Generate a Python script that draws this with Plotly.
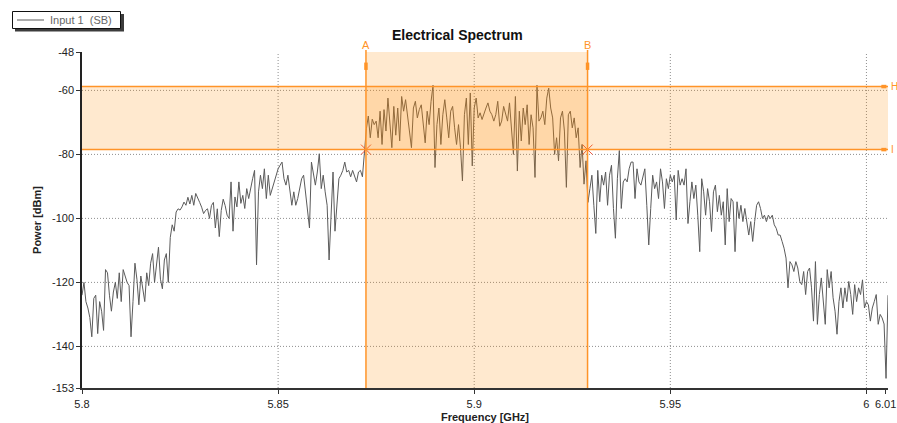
import numpy as np
import plotly.graph_objects as go

# Sample grid of the analyser sweep (GHz)
FREQ_START = 5.8
FREQ_STEP = 0.0005

# Measured power per sample (dBm), Input 1 (SB)
power_dbm = [
    -124, -120, -126, -128, -131, -137, -125, -124, -136, -126,
    -129, -135, -116, -117, -124, -129, -123, -120, -125, -117,
    -126, -116, -118, -120, -121, -137, -126, -114, -119, -127,
    -118, -122, -126, -117, -121, -114, -111, -120, -114, -109,
    -119, -122, -113, -111, -120, -106, -102, -104, -98, -97,
    -97.4, -96.4, -94.9, -95.9, -93.4, -95.5, -92.8, -95.9, -92.2, -93.4,
    -95, -96.5, -98.5, -97.5, -97, -100, -96, -95, -103, -97,
    -105.7, -97.5, -94, -96, -99, -100, -88.6, -104, -93.3, -96.4,
    -88.6, -95.3, -92.8, -96.9, -90.7, -93.8, -90.2, -87.6, -85, -114.5,
    -91.7, -86.5, -90.7, -84.5, -93.8, -86.5, -92.8, -90.7, -88.6, -86.5,
    -84.5, -83.4, -82.4, -87.6, -89.6, -86.5, -90.7, -95.9, -91.7, -95.9,
    -93.8, -90.7, -87.6, -86.5, -91.7, -95.9, -103, -82.4, -86.5, -89.6,
    -85.5, -79.8, -90.7, -86.5, -91.7, -95.9, -113, -101, -85.5, -104,
    -95.9, -87.6, -86.5, -85, -82.4, -85.5, -85, -87, -85, -86.5,
    -88.6, -85.5, -85, -87, -80, -72, -68, -74.8, -69, -70.7,
    -69.6, -74.8, -66.5, -76.9, -66, -72.7, -62.4, -69.6, -77.9, -65,
    -74, -65.5, -75.8, -61.9, -66.5, -62.9, -68.6, -72.7, -77.9, -65.5,
    -63.4, -68.6, -66, -64.5, -70.7, -76.4, -66.5, -70.7, -63.4, -58.4,
    -84.1, -70.7, -65.5, -76.9, -67.6, -62.9, -68.6, -74.8, -66.5, -65,
    -71.7, -76.9, -70.7, -77.9, -88.3, -67.6, -62.4, -76.9, -60.8, -83.6,
    -65.5, -62.4, -68.6, -67, -69.1, -67.6, -65.5, -63.9, -66.5, -67.6,
    -69.6, -67.6, -63.4, -71.2, -69.6, -65, -67.6, -69.6, -63.9, -71.7,
    -80, -61.9, -85.2, -66.5, -75.8, -65.5, -70.7, -64.5, -76.9, -67.6,
    -71.7, -87.2, -58.4, -69.6, -68.6, -66.5, -70.7, -62.4, -59.3, -65.5,
    -68.6, -80, -74.8, -82, -68.6, -66.5, -72.7, -90.3, -67.6, -66.5,
    -71.7, -68.6, -74.8, -71.7, -84.1, -76.9, -89.3, -82, -95, -90.7,
    -86.5, -95.9, -104.7, -85, -94.8, -86.5, -89.6, -85.5, -95.9, -86.5,
    -83.4, -96.9, -106.2, -87.6, -78.8, -96.9, -88.6, -87.6, -88.6, -84.5,
    -82.4, -82.4, -93.8, -84.5, -88.6, -89.6, -86.5, -84.5, -95.9, -108.3,
    -96.9, -86.5, -90.7, -88.6, -93.8, -84.5, -88.6, -96.9, -87.6, -90.7,
    -86.5, -88.6, -86.5, -100.5, -85, -89.6, -87.6, -89.6, -84.5, -101.6,
    -94.8, -88.6, -93.8, -89.6, -99, -110.4, -87.6, -91.7, -99, -90.7,
    -94.8, -104.1, -91.7, -89.6, -97.9, -92.8, -99, -94.8, -108.3, -90.7,
    -101, -93.8, -94.8, -110.4, -94.8, -100, -95.9, -101, -96.9, -102,
    -105.2, -101, -107.2, -101, -95.9, -94.8, -96.9, -100, -99, -101,
    -99, -100, -99, -102, -103.1, -105.2, -105.2, -107.2, -109.3, -112.4,
    -121.7, -113.5, -114.5, -116.6, -113.5, -115.5, -119.7, -120.7, -116.6, -123.8,
    -116.6, -115.5, -121.7, -132.1, -113.5, -133.1, -123.8, -118.6, -124.8, -133.1,
    -116, -121.7, -116.6, -124.8, -129, -136.2, -126, -121.7, -128, -121.7,
    -126, -119.7, -123.8, -130, -120.7, -126, -121.7, -123.8, -119.2, -128,
    -126, -127, -132.1, -128, -126, -123.8, -133.1, -130, -131.1, -133,
    -150, -124,
]

# Axis limits and labels
X_RANGE = [5.8, 6.0055]
Y_RANGE = [-153, -48]
x_tick_vals = [5.8, 5.85, 5.9, 5.95, 6.0, 6.0049]
x_tick_text = ["5.8", "5.85", "5.9", "5.95", "6", "6.01"]
y_tick_vals = [-153, -140, -120, -100, -80, -60, -48]
y_tick_text = ["-153", "-140", "-120", "-100", "-80", "-60", "-48"]
x_grid = [5.85, 5.9, 5.95, 6.0]
y_grid = [-140, -120, -100, -80, -60]

# Marker positions
MARK_A = 5.8724
MARK_B = 5.9289
MARK_H = -58.8
MARK_I = -78.5

SERIES_NAME = "Input 1\u00a0 (SB)"

freq = FREQ_START + FREQ_STEP * np.arange(len(power_dbm))

FONT = "Liberation Sans, Arial, sans-serif"
ORANGE = "rgb(255,148,40)"
BAND = "rgba(255,140,0,0.19)"
GRID = "#8e8e8e"
TRACE = "#5b5b5b"

# Plot-area geometry in pixels, used to place the legend box and titles in paper units
L, R, T, B = 82, 888, 52, 388
W, H = 897, 423


def px_x(p):
    return (p - L) / (R - L)


def px_y(p):
    return (B - p) / (B - T)


fig = go.Figure()

fig.add_trace(go.Scatter(
    x=freq, y=power_dbm, mode="lines", name=SERIES_NAME,
    line=dict(color=TRACE, width=1), hoverinfo="skip", showlegend=False,
))

# Cross markers where the A/B markers meet level I
fig.add_trace(go.Scatter(
    x=[MARK_A, MARK_B], y=[MARK_I, MARK_I], mode="markers",
    marker=dict(symbol="x-thin-open", size=10, line=dict(color=ORANGE, width=1)),
    showlegend=False, hoverinfo="skip",
))

shapes = []
for gx in x_grid:
    shapes.append(dict(type="line", xref="x", yref="paper", x0=gx, x1=gx, y0=0, y1=1,
                       line=dict(color=GRID, width=1, dash="1px,2px"), layer="below"))
for gy in y_grid:
    shapes.append(dict(type="line", xref="paper", yref="y", x0=0, x1=1, y0=gy, y1=gy,
                       line=dict(color=GRID, width=1, dash="1px,2px"), layer="below"))

# Shaded marker bands
shapes.append(dict(type="rect", xref="x", yref="paper", x0=MARK_A, x1=MARK_B, y0=0, y1=1,
                   fillcolor=BAND, line=dict(width=0), layer="above"))
shapes.append(dict(type="rect", xref="paper", yref="y", x0=0, x1=1, y0=MARK_I, y1=MARK_H,
                   fillcolor=BAND, line=dict(width=0), layer="above"))

# Marker lines with their handles
for mx in (MARK_A, MARK_B):
    shapes.append(dict(type="line", xref="x", yref="paper", x0=mx, x1=mx, y0=0, y1=1.006,
                       line=dict(color=ORANGE, width=1.5), layer="above"))
    shapes.append(dict(type="line", xref="x", yref="y", x0=mx, x1=mx, y0=-51.3, y1=-53.6,
                       line=dict(color=ORANGE, width=3.5), layer="above"))
for my in (MARK_H, MARK_I):
    shapes.append(dict(type="line", xref="paper", yref="y", x0=0, x1=1.0, y0=my, y1=my,
                       line=dict(color=ORANGE, width=1.5), layer="above"))
    shapes.append(dict(type="line", xref="x", yref="y", x0=6.0038, x1=6.0051, y0=my, y1=my,
                       line=dict(color=ORANGE, width=3.5), layer="above"))

# Legend box: shadow, frame and line sample
shapes.append(dict(type="rect", xref="paper", yref="paper",
                   x0=px_x(15), x1=px_x(124), y0=px_y(31.5), y1=px_y(14),
                   fillcolor="#3c3c3c", line=dict(width=0), layer="above"))
shapes.append(dict(type="rect", xref="paper", yref="paper",
                   x0=px_x(12.5), x1=px_x(120.5), y0=px_y(28.5), y1=px_y(11.5),
                   fillcolor="white", line=dict(color="#111", width=1), layer="above"))
shapes.append(dict(type="line", xref="paper", yref="paper",
                   x0=px_x(17), x1=px_x(44), y0=px_y(20), y1=px_y(20),
                   line=dict(color=TRACE, width=1), layer="above"))

annotations = [
    dict(text=SERIES_NAME, xref="paper", yref="paper", x=px_x(48), y=px_y(20),
         showarrow=False, xanchor="left", yanchor="middle",
         font=dict(family=FONT, size=11, color="#666")),
    dict(text="<b>Electrical Spectrum</b>", xref="paper", yref="paper", x=px_x(457), y=px_y(35),
         showarrow=False, xanchor="center", yanchor="middle",
         font=dict(family=FONT, size=14, color="#111")),
    dict(text="<b>Frequency [GHz]</b>", xref="paper", yref="paper", x=px_x(485), y=px_y(417),
         showarrow=False, xanchor="center", yanchor="middle",
         font=dict(family=FONT, size=11, color="#222")),
    dict(text="A", xref="x", yref="paper", x=MARK_A, y=px_y(45), showarrow=False,
         xanchor="center", yanchor="middle", font=dict(family=FONT, size=11, color=ORANGE)),
    dict(text="B", xref="x", yref="paper", x=MARK_B, y=px_y(45), showarrow=False,
         xanchor="center", yanchor="middle", font=dict(family=FONT, size=11, color=ORANGE)),
    dict(text="H", xref="paper", yref="y", x=px_x(888.5), y=MARK_H, showarrow=False,
         xanchor="left", yanchor="middle", font=dict(family=FONT, size=10, color=ORANGE)),
    dict(text="I", xref="paper", yref="y", x=px_x(889), y=MARK_I, showarrow=False,
         xanchor="left", yanchor="middle", font=dict(family=FONT, size=10, color=ORANGE)),
]

fig.update_layout(
    width=W, height=H,
    margin=dict(l=L, r=W - R, t=T, b=H - B, autoexpand=False),
    paper_bgcolor="white", plot_bgcolor="white",
    font=dict(family=FONT, size=11, color="#222"),
    shapes=shapes, annotations=annotations,
    showlegend=False,
    xaxis=dict(range=X_RANGE, tickmode="array", tickvals=x_tick_vals, ticktext=x_tick_text,
               tickangle=0, showgrid=False, zeroline=False, showline=True, automargin=False,
               linecolor="#333", linewidth=1.5, ticks="outside", ticklen=4, tickcolor="#333",
               ticklabelstandoff=1,
               tickfont=dict(family=FONT, size=11, color="#222")),
    yaxis=dict(range=Y_RANGE, tickmode="array", tickvals=y_tick_vals, ticktext=y_tick_text,
               showgrid=False, zeroline=False, showline=True, automargin=False,
               linecolor="#222", linewidth=1.5, ticks="outside", ticklen=4, tickcolor="#333",
               tickfont=dict(family=FONT, size=11, color="#222"),
               title=dict(text="<b>Power [dBm]</b>", standoff=8,
                          font=dict(family=FONT, size=11, color="#222"))),
)

fig.write_html("out.html")
